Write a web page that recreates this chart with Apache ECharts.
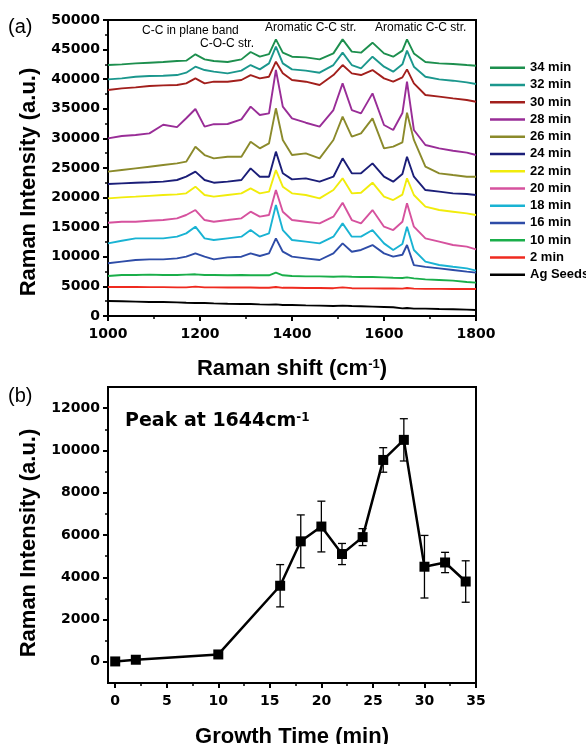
<!DOCTYPE html>
<html>
<head>
<meta charset="utf-8" />
<title>Raman spectra / peak intensity vs growth time</title>
<script src="https://cdn.jsdelivr.net/npm/echarts@6/dist/echarts.min.js"></script>
<style>html,body{margin:0;padding:0;background:#fff;}</style>
</head>
<body>
<div id="main" style="width:586px;height:744px;"></div>
<script type="text/javascript">
// ---- panel (a): Raman spectra ----
var ramanShift = [1000,1030,1060,1090,1120,1150,1170,1190,1210,1230,1260,1290,1310,1330,1350,1365,1380,1400,1430,1460,1490,1510,1530,1550,1575,1600,1620,1640,1650,1665,1690,1720,1750,1780,1800];

var int34 = [42390,42510,42680,42790,42900,43070,43130,44200,43350,43070,42900,43350,44590,43800,44250,46730,44480,43800,43690,43350,44360,46730,44650,44480,46170,44360,43800,44830,46730,44360,42900,42680,42560,42390,42280];
var int32 = [39970,40140,40420,40530,40590,40700,41100,42110,41550,41270,40990,41440,42390,41660,42680,45490,42680,41660,41440,41100,42390,44480,42390,41830,43800,42110,41270,42510,44820,42110,40420,39970,39750,39470,39180];
var int30 = [38170,38450,38620,38850,38960,39020,39300,40140,39300,39580,39580,39860,40700,40140,40420,42960,40990,39860,39580,39020,40700,42390,40990,40700,41550,40140,39580,40310,41660,39300,37330,37050,36760,36480,36200];
var int28 = [30010,30400,30570,30850,32300,31900,33400,34960,31980,32400,32430,33220,35360,33950,34230,41550,35360,33390,32650,31980,34790,39300,34790,34230,37610,32260,31420,34280,39580,31420,28880,28320,27920,27590,27190];
var int26 = [24380,24660,24940,25220,25500,25780,26070,28600,27190,26630,26910,26910,29450,28320,29160,35080,29730,27190,27470,26630,29730,33670,30290,30850,33390,28320,28600,29330,34340,29730,25220,24100,23810,23530,23530];
var int24 = [22300,22410,22520,22600,22690,22970,23530,24380,22970,22520,22690,22970,24940,23530,23530,27760,24100,23080,23250,22690,23530,26630,24100,24100,25780,23530,22690,23990,26910,23530,21280,21000,20720,20610,20440];
var int22 = [19870,20040,20160,20300,20440,20550,20720,21850,20440,20160,20440,20720,21560,20720,21000,24660,21850,20720,20440,19870,21280,23250,20720,20830,22520,20160,19590,20510,23250,20440,18470,17900,17620,17340,17060];
var int20 = [15760,15930,15930,16100,16210,16500,17060,17900,16210,15930,16210,16500,17620,16780,17060,21280,17620,16210,15930,15650,16780,19140,16210,15650,17900,15090,14520,15920,19030,15090,13120,12560,11990,11710,11260];
var int18 = [12270,12720,13120,13120,13120,13400,13960,15090,13120,12840,13120,13400,14520,13400,13960,18750,14520,12840,12560,12270,13400,15650,13400,13400,14520,12270,11150,12160,15090,11150,9180,8620,8330,8050,7660];
var int16 = [8900,9180,9460,9570,9570,9740,10020,10580,10020,9570,9910,10020,10580,10130,10580,13120,10860,10020,9740,9460,10580,12270,10860,11150,11990,10580,10020,10350,11990,8600,8300,8050,7770,7490,7320];
var int10 = [6760,6930,6930,6990,6930,6930,6990,7040,6930,6930,6880,6930,6880,6880,6880,7320,6880,6760,6700,6700,6640,6700,6640,6590,6590,6530,6470,6420,6530,6360,6190,6080,5970,5750,5630];
var int2 = [4900,4900,4900,4870,4870,4840,4840,4960,4840,4840,4810,4810,4810,4780,4780,4900,4760,4760,4730,4730,4700,4840,4700,4670,4670,4650,4650,4620,4730,4620,4590,4590,4560,4560,4560];
var intAg = [2530,2480,2420,2360,2360,2310,2250,2200,2200,2140,2080,2030,2030,1970,1920,1970,1860,1860,1800,1750,1690,1750,1690,1640,1580,1520,1470,1290,1350,1240,1240,1180,1130,1070,1010];

var spectrumNames = ['34 min','32 min','30 min','28 min','26 min','24 min','22 min','20 min','18 min','16 min','10 min','2 min','Ag Seeds'];
var spectra = [int34,int32,int30,int28,int26,int24,int22,int20,int18,int16,int10,int2,intAg];

// ---- panel (b): peak at 1644 cm-1 ----
var growthTime = [0,2,10,16,18,20,22,24,26,28,30,32,34];
var peakIntensity = [20,100,350,3600,5700,6400,5100,5900,9550,10500,4500,4700,3800];
var peakError = [0,0,0,1000,1250,1200,500,400,580,1000,1480,480,980];

var timeTicks = [0,5,10,15,20,25,30,35];
var timeMinor = [2.5,7.5,12.5,17.5,22.5,27.5,32.5];
var peakTicks = [0,2000,4000,6000,8000,10000,12000];
var peakMinor = [1000,3000,5000,7000,9000,11000];

var lineColors = ['#1d8f4e','#1b978d','#a21f1c','#992d97','#8b8a2b','#1b1e78','#f1ec0c','#d6529e','#19b3d3','#2e4ca7','#1aae4a','#ef2a1f','#000000'];

var myChart = echarts.init(document.getElementById('main'));

var plain = function (v) { return String(v); };
var tickFont = {fontFamily: 'DejaVu Sans', fontWeight: 'bold', fontSize: 14, color: '#000', formatter: plain};
var titleFont = {fontFamily: 'Liberation Sans', fontWeight: 'bold', fontSize: 22, color: '#000'};
var blackLine = {color: '#000', width: 2};

var series = spectra.map(function (arr, i) {
	return {
		name: spectrumNames[i],
		type: 'line',
		xAxisIndex: 0,
		yAxisIndex: 0,
		data: ramanShift.map(function (x, j) { return [x, arr[j]]; }),
		symbol: 'none',
		lineStyle: {color: lineColors[i], width: 1.9},
		itemStyle: {color: lineColors[i]},
		z: 2 + (spectra.length - i) * 0.01
	};
});

series.push({
	type: 'custom',
	xAxisIndex: 1,
	yAxisIndex: 1,
	data: growthTime.map(function (t, i) { return [t, peakIntensity[i], peakError[i]]; }),
	encode: {x: 0, y: 1},
	renderItem: function (params, api) {
		var e = api.value(2);
		if (!e) return null;
		var t = api.value(0), v = api.value(1);
		var hi = api.coord([t, v + e]), lo = api.coord([t, v - e]);
		var w = 4;
		var st = {stroke: '#000', lineWidth: 1.3};
		return {type: 'group', children: [
			{type: 'line', shape: {x1: hi[0], y1: hi[1], x2: lo[0], y2: lo[1]}, style: st},
			{type: 'line', shape: {x1: hi[0] - w, y1: hi[1], x2: hi[0] + w, y2: hi[1]}, style: st},
			{type: 'line', shape: {x1: lo[0] - w, y1: lo[1], x2: lo[0] + w, y2: lo[1]}, style: st}
		]};
	},
	z: 3
});

series.push({
	type: 'line',
	xAxisIndex: 1,
	yAxisIndex: 1,
	data: growthTime.map(function (t, i) { return [t, peakIntensity[i]]; }),
	symbol: 'rect',
	symbolSize: 10,
	lineStyle: {color: '#000', width: 2.5},
	itemStyle: {color: '#000'},
	z: 4
});

var option = {
	animation: false,
	backgroundColor: '#fff',
	grid: [
		{left: 108, top: 20, width: 368, height: 296, outerBoundsMode: 'none', show: true, borderColor: '#000', borderWidth: 2},
		{left: 108, top: 387, width: 368, height: 296, outerBoundsMode: 'none', show: true, borderColor: '#000', borderWidth: 2}
	],
	legend: {
		data: spectrumNames,
		orient: 'vertical',
		left: 485,
		top: 54,
		icon: 'rect',
		itemWidth: 35,
		itemHeight: 2.5,
		itemGap: 0,
		selectedMode: false,
		textStyle: {fontFamily: 'Liberation Sans', fontWeight: 'bold', fontSize: 13, lineHeight: 17.25, color: '#000'}
	},
	xAxis: [
		{
			gridIndex: 0, type: 'value', min: 1000, max: 1800, interval: 200,
			axisLine: {onZero: false, lineStyle: blackLine},
			axisTick: {length: 5, lineStyle: blackLine},
			minorTick: {show: true, splitNumber: 2, length: 3, lineStyle: {color: '#000', width: 1.5}},
			axisLabel: Object.assign({margin: 11}, tickFont),
			splitLine: {show: false},
			name: 'Raman shift (cm{sup|-1})',
			nameLocation: 'middle',
			nameGap: 42,
			nameTextStyle: Object.assign({rich: {sup: {fontFamily: 'Liberation Sans', fontWeight: 'bold', fontSize: 13, color: '#000', verticalAlign: 'top'}}}, titleFont)
		},
		{
			gridIndex: 1, type: 'value', min: -0.7, max: 35,
			axisLine: {onZero: false, lineStyle: blackLine},
			axisTick: {length: 5, lineStyle: blackLine, customValues: timeTicks},
			axisLabel: Object.assign({margin: 11, customValues: timeTicks}, tickFont),
			splitLine: {show: false},
			name: 'Growth Time (min)',
			nameLocation: 'middle',
			nameGap: 43,
			nameTextStyle: titleFont
		},
		{
			gridIndex: 1, type: 'value', min: -0.7, max: 35, position: 'bottom',
			axisLine: {show: false, onZero: false},
			axisTick: {length: 3, lineStyle: {color: '#000', width: 1.5}, customValues: timeMinor},
			axisLabel: {show: false},
			splitLine: {show: false}
		}
	],
	yAxis: [
		{
			gridIndex: 0, type: 'value', min: 0, max: 50000, interval: 5000,
			axisLine: {show: true, onZero: false, lineStyle: blackLine},
			axisTick: {show: true, length: 5, lineStyle: blackLine},
			minorTick: {show: true, splitNumber: 2, length: 3, lineStyle: {color: '#000', width: 1.5}},
			axisLabel: Object.assign({margin: 8}, tickFont),
			splitLine: {show: false},
			name: 'Raman Intensity (a.u.)',
			nameLocation: 'middle',
			nameGap: 66,
			nameTextStyle: Object.assign({padding: [0, 28, 0, 0]}, titleFont)
		},
		{
			gridIndex: 1, type: 'value', min: -1000, max: 13000,
			axisLine: {show: true, onZero: false, lineStyle: blackLine},
			axisTick: {show: true, length: 5, lineStyle: blackLine, customValues: peakTicks},
			axisLabel: Object.assign({margin: 8, customValues: peakTicks}, tickFont),
			splitLine: {show: false},
			name: 'Raman Intensity (a.u.)',
			nameLocation: 'middle',
			nameGap: 66,
			nameTextStyle: Object.assign({padding: [0, 16, 0, 0]}, titleFont)
		},
		{
			gridIndex: 1, type: 'value', min: -1000, max: 13000, position: 'left',
			axisLine: {show: false, onZero: false},
			axisTick: {show: true, length: 3, lineStyle: {color: '#000', width: 1.5}, customValues: peakMinor},
			axisLabel: {show: false},
			splitLine: {show: false}
		}
	],
	graphic: [
		{type: 'text', x: 8, y: 27, style: {text: '(a)', fontFamily: 'Liberation Sans', fontSize: 20, fill: '#000', verticalAlign: 'middle'}},
		{type: 'text', x: 8, y: 396, style: {text: '(b)', fontFamily: 'Liberation Sans', fontSize: 20, fill: '#000', verticalAlign: 'middle'}},
		{type: 'text', x: 142, y: 31, style: {text: 'C-C in plane band', fontFamily: 'Liberation Sans', fontSize: 12, fill: '#000', verticalAlign: 'middle'}},
		{type: 'text', x: 200, y: 44, style: {text: 'C-O-C str.', fontFamily: 'Liberation Sans', fontSize: 12, fill: '#000', verticalAlign: 'middle'}},
		{type: 'text', x: 265, y: 28, style: {text: 'Aromatic C-C str.', fontFamily: 'Liberation Sans', fontSize: 12, fill: '#000', verticalAlign: 'middle'}},
		{type: 'text', x: 375, y: 28, style: {text: 'Aromatic C-C str.', fontFamily: 'Liberation Sans', fontSize: 12, fill: '#000', verticalAlign: 'middle'}},
		{type: 'text', x: 125, y: 421, style: {
			text: 'Peak at 1644cm{sup|-1}',
			fontFamily: 'DejaVu Sans', fontWeight: 'bold', fontSize: 19, fill: '#000', verticalAlign: 'middle',
			rich: {sup: {fontFamily: 'DejaVu Sans', fontWeight: 'bold', fontSize: 12, fill: '#000', verticalAlign: 'top'}}
		}}
	],
	series: series
};
myChart.setOption(option);
</script>
</body>
</html>
